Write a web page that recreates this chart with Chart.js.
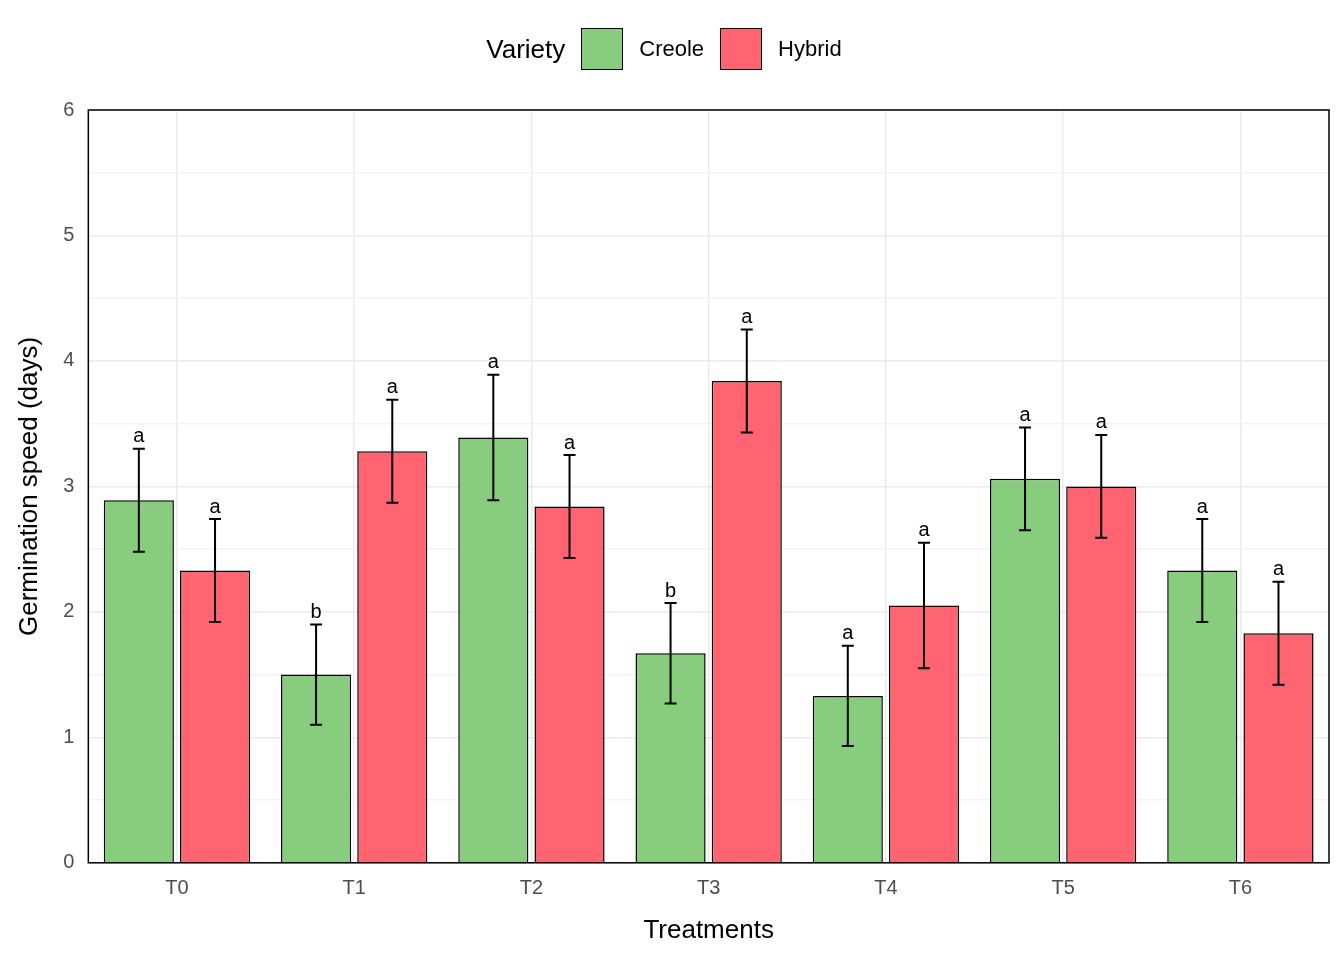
<!DOCTYPE html>
<html>
<head>
<meta charset="utf-8">
<script src="https://cdn.jsdelivr.net/npm/chart.js@4"></script>
<style>
  body { margin: 0; background: #fff; font-family: Arial, "Liberation Sans", sans-serif; }
  .wrap { position: relative; width: 1344px; height: 960px; }
  .legend { position: absolute; top: 28px; left: 0; width: 1344px; display: flex; justify-content: center; align-items: center; font-size: 22px; color: #000; }
  .legend .title { font-size: 26px; margin-right: 16px; }
  .legend .box { width: 42px; height: 42px; border: 1.5px solid #000; box-sizing: border-box; margin-right: 16px; }
  .legend .lbl { margin-right: 16px; }
</style>
</head>
<body>
<div class="wrap">
  <div class="legend">
    <span class="title">Variety</span>
    <span class="box" style="background:#87CD7D"></span><span class="lbl">Creole</span>
    <span class="box" style="background:#FF6470"></span><span class="lbl">Hybrid</span>
  </div>
  <canvas id="chart" width="1344" height="960"></canvas>
</div>
<script>
const treatments = ['T0', 'T1', 'T2', 'T3', 'T4', 'T5', 'T6'];
const creole = [2.89, 1.50, 3.39, 1.67, 1.33, 3.06, 2.33];
const hybrid = [2.33, 3.28, 2.84, 3.84, 2.05, 3.00, 1.83];
const creoleErr = [0.41, 0.40, 0.50, 0.40, 0.40, 0.41, 0.41];
const hybridErr = [0.41, 0.41, 0.41, 0.41, 0.50, 0.41, 0.41];
const creoleLetters = ['a', 'b', 'a', 'b', 'a', 'a', 'a'];
const hybridLetters = ['a', 'a', 'a', 'a', 'a', 'a', 'a'];

// error bars, significance letters and plot border
const extras = {
    id: 'extras',
    afterDatasetsDraw(chart) {
        const ctx = chart.ctx;
        const y = chart.scales.y;
        const errs = [creoleErr, hybridErr];
        const letters = [creoleLetters, hybridLetters];
        ctx.save();
        chart.data.datasets.forEach(function(ds, di) {
            chart.getDatasetMeta(di).data.forEach(function(bar, i) {
                const v = ds.data[i];
                const top = y.getPixelForValue(v + errs[di][i]);
                const bot = y.getPixelForValue(v - errs[di][i]);
                ctx.strokeStyle = '#000';
                ctx.lineWidth = 2;
                ctx.beginPath();
                ctx.moveTo(bar.x, top); ctx.lineTo(bar.x, bot);
                ctx.moveTo(bar.x - 6, top); ctx.lineTo(bar.x + 6, top);
                ctx.moveTo(bar.x - 6, bot); ctx.lineTo(bar.x + 6, bot);
                ctx.stroke();
                ctx.fillStyle = '#000';
                ctx.font = '20px Arial, "Liberation Sans"';
                ctx.textAlign = 'center';
                ctx.textBaseline = 'bottom';
                ctx.fillText(letters[di][i], bar.x, top - 2);
            });
        });
        const a = chart.chartArea;
        ctx.strokeStyle = '#000';
        ctx.lineWidth = 1.5;
        ctx.strokeRect(a.left, a.top, a.right - a.left, a.bottom - a.top);
        ctx.restore();
    }
};

new Chart(document.getElementById('chart').getContext('2d'), {
    type: 'bar',
    data: {
        labels: treatments,
        datasets: [
            { label: 'Creole', data: creole, backgroundColor: '#87CD7D', borderColor: '#000', borderWidth: 1.5 },
            { label: 'Hybrid', data: hybrid, backgroundColor: '#FF6470', borderColor: '#000', borderWidth: 1.5 }
        ]
    },
    options: {
        responsive: false,
        animation: false,
        layout: { padding: { top: 110, right: 15, left: 10, bottom: 10 } },
        datasets: { bar: { categoryPercentage: 0.86, barPercentage: 0.92 } },
        plugins: { legend: { display: false }, tooltip: { enabled: false } },
        scales: {
            x: {
                grid: { offset: false, color: '#EBEBEB', lineWidth: 1.5, drawTicks: false },
                border: { display: false },
                ticks: { color: '#4D4D4D', font: { size: 20, family: 'Arial, "Liberation Sans"' }, padding: 14 },
                title: { display: true, text: 'Treatments', color: '#000', font: { size: 26, family: 'Arial, "Liberation Sans"' }, padding: { top: 0 } }
            },
            y: {
                min: 0, max: 6,
                grid: {
                    color: function(c) { return Number.isInteger(c.tick.value) ? '#EBEBEB' : '#F3F3F3'; },
                    lineWidth: 1.5, drawTicks: false
                },
                border: { display: false },
                ticks: {
                    stepSize: 0.5,
                    color: '#4D4D4D',
                    font: { size: 20, family: 'Arial, "Liberation Sans"' },
                    padding: 14,
                    callback: function(v) { return Number.isInteger(v) ? v : ''; }
                },
                title: { display: true, text: 'Germination speed (days)', color: '#000', font: { size: 26, family: 'Arial, "Liberation Sans"' } }
            }
        }
    },
    plugins: [extras]
});
</script>
</body>
</html>
